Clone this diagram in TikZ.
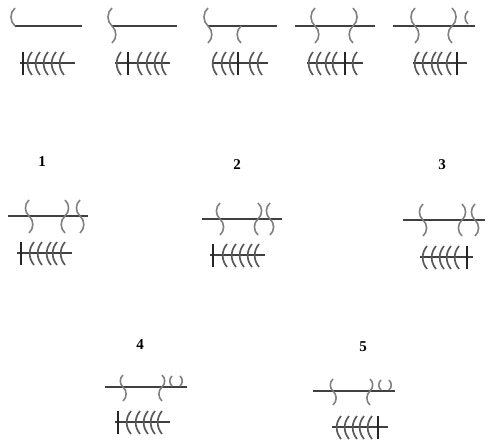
\documentclass[tikz,border=0pt]{standalone}
\usepackage{fontspec}
\setmainfont{Liberation Serif}
% one bow above or below a spine: x, upper y, lower y
\newcommand{\lbow}[3]{\draw[bow] (#1,#2) to[bend right=50] (#1,#3);}
\newcommand{\rbow}[3]{\draw[bow] (#1,#2) to[bend left=50] (#1,#3);}
% lower row: x from, x to, y, bar x, bow tips
\newcommand{\comb}[5]{%
  \draw[spine] (#1,#3) -- (#2,#3);
  \draw[bar] (#4,#3-11) -- (#4,#3+12);
  \foreach \p in {#5} \draw[tooth] (\p,#3-11) to[bend right=40] (\p,#3+12);}

\begin{document}
\begin{tikzpicture}[x=1pt,y=-1pt,
  spine/.style={draw=black!75, line width=1.1pt},
  bar/.style={draw=black!85, line width=1.2pt},
  bow/.style={draw=black!50, line width=1.6pt},
  tooth/.style={draw=black!65, line width=1.7pt},
  tag/.style={font=\fontsize{15}{17}\selectfont\bfseries}]
\useasboundingbox (0,0) rectangle (489,441);

% top row
\draw[spine] (15,26) -- (82,26);
\lbow{15}{8}{26}
\comb{20}{75}{63}{23}{32,40,48,56,64}

\draw[spine] (112,26) -- (177,26);
\lbow{112}{8}{26} \rbow{112}{26}{43}
\comb{115}{170}{63}{128}{121,142,151,159,166}

\draw[spine] (208,26) -- (277,26);
\lbow{208}{8}{26} \rbow{208}{26}{43}
\lbow{241}{26}{43}
\comb{212}{268}{63}{238}{217,226,234,254,262}

\draw[spine] (295,26) -- (375,26);
\lbow{315}{8}{26} \rbow{315}{26}{43}
\rbow{353}{8}{26} \lbow{353}{26}{43}
\comb{307}{363}{63}{345}{313,321,330,337,357}

\draw[spine] (393,26) -- (475,26);
\lbow{415}{8}{26} \rbow{415}{26}{43}
\rbow{452}{8}{26} \lbow{452}{26}{43}
\lbow{468}{11}{24}
\comb{413}{467}{63}{457}{419,427,436,442,451}

% middle row
\node (n1) [tag] at (42,162) {1};
\draw[spine] (8,216) -- (88,216);
\lbow{29}{200}{216} \rbow{29}{216}{233}
\rbow{65}{200}{216} \lbow{65}{216}{233}
\lbow{80}{200}{216} \rbow{80}{216}{233}
\comb{17}{72}{253}{21}{34,42,51,57,65}

\node (n2) [tag] at (237,165) {2};
\draw[spine] (202,219) -- (282,219);
\lbow{220}{203}{219} \rbow{220}{219}{235}
\rbow{258}{203}{219} \lbow{258}{219}{235}
\lbow{270}{203}{219} \rbow{270}{219}{235}
\comb{210}{265}{255}{213}{227,236,244,252,259}

\node (n3) [tag] at (442,165) {3};
\draw[spine] (403,220) -- (485,220);
\lbow{423}{204}{220} \rbow{423}{220}{236}
\rbow{462}{204}{220} \lbow{462}{220}{236}
\lbow{475}{204}{220} \rbow{475}{220}{236}
\comb{420}{473}{257}{467}{427,436,444,451,459}

% bottom row
\node (n4) [tag] at (140,345) {4};
\draw[spine] (105,387) -- (187,387);
\lbow{123}{375}{387} \rbow{123}{387}{401}
\rbow{162}{375}{387} \lbow{162}{387}{401}
\lbow{172}{376}{386} \rbow{180}{376}{386}
\comb{115}{170}{422}{118}{131,140,148,155,162}

\node (n5) [tag] at (363,347) {5};
\draw[spine] (313,391) -- (395,391);
\lbow{333}{379}{391} \rbow{333}{391}{405}
\rbow{370}{379}{391} \lbow{370}{391}{405}
\lbow{381}{380}{390} \rbow{389}{380}{390}
\comb{332}{388}{427}{378}{341,349,357,364,372}
\end{tikzpicture}
\end{document}
